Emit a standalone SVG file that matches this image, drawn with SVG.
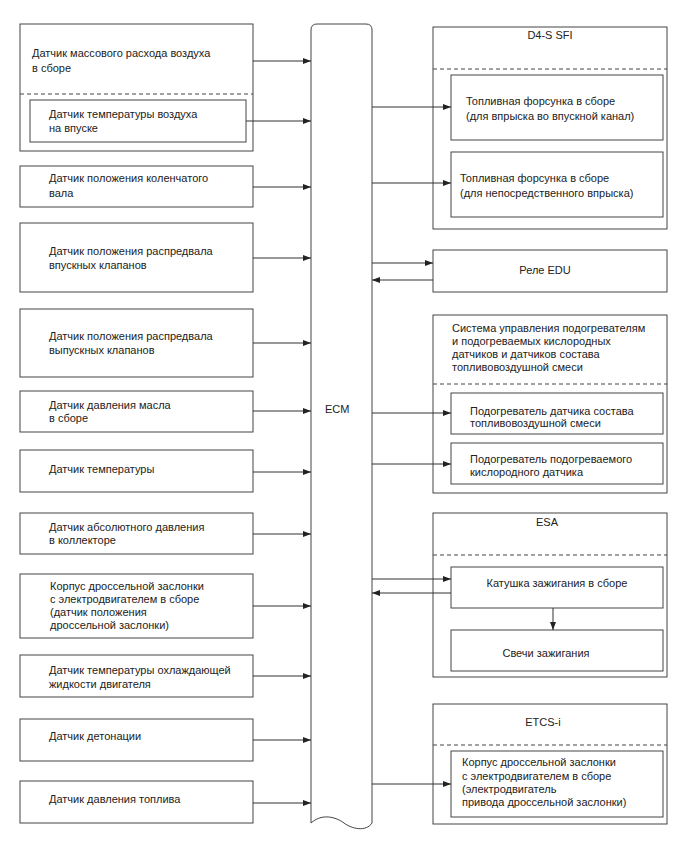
<svg xmlns="http://www.w3.org/2000/svg" width="688" height="852" viewBox="0 0 688 852">
<defs>
<marker id="ah" markerUnits="userSpaceOnUse" markerWidth="9" markerHeight="6" refX="8" refY="3" orient="auto">
<path d="M0,0 L8,3 L0,6 z" fill="#222"/>
</marker>
<style>
.b{fill:#fff;stroke:#444;stroke-width:1}
.d{stroke:#444;stroke-width:1;stroke-dasharray:4,3;fill:none}
.t{font-family:"Liberation Sans",Arial,sans-serif;font-size:11px;fill:#222}
.m{text-anchor:middle}
.c{stroke:#333;stroke-width:1;fill:none;marker-end:url(#ah)}
</style>
</defs>
<rect width="688" height="852" fill="#fff"/>

<g id="ecm">
<path class="b" d="M311,823 L311,30 Q311,24 317,24 L366,24 Q372,24 372,30 L372,823 C366,832 352,829 344,823 C336,817 322,813 311,823 Z"/>
<text class="t" x="325" y="413">ECM</text>
</g>

<g id="maf">
<rect class="b" x="20" y="24" width="233" height="127"/>
<line class="d" x1="20" y1="94" x2="253" y2="94"/>
<text class="t" x="32" y="57">Датчик массового расхода воздуха</text>
<text class="t" x="32" y="72">в сборе</text>
</g>
<g id="iat">
<rect class="b" x="30" y="100" width="216" height="42"/>
<text class="t" x="49" y="118">Датчик температуры воздуха</text>
<text class="t" x="49" y="132">на впуске</text>
</g>
<g id="ckp">
<rect class="b" x="20" y="166" width="233" height="41"/>
<text class="t" x="49" y="182">Датчик положения коленчатого</text>
<text class="t" x="49" y="197">вала</text>
</g>
<g id="camin">
<rect class="b" x="20" y="223" width="233" height="69"/>
<text class="t" x="49" y="255">Датчик положения распредвала</text>
<text class="t" x="49" y="269">впускных клапанов</text>
</g>
<g id="camex">
<rect class="b" x="20" y="309" width="233" height="68"/>
<text class="t" x="49" y="340">Датчик положения распредвала</text>
<text class="t" x="49" y="354">выпускных клапанов</text>
</g>
<g id="oil">
<rect class="b" x="20" y="391" width="233" height="41"/>
<text class="t" x="49" y="409">Датчик давления масла</text>
<text class="t" x="49" y="422">в сборе</text>
</g>
<g id="temp">
<rect class="b" x="20" y="450" width="233" height="42"/>
<text class="t" x="49" y="473">Датчик температуры</text>
</g>
<g id="map">
<rect class="b" x="20" y="513" width="233" height="41"/>
<text class="t" x="49" y="531">Датчик абсолютного давления</text>
<text class="t" x="49" y="544">в коллекторе</text>
</g>
<g id="tps">
<rect class="b" x="20" y="574" width="233" height="64"/>
<text class="t" x="50" y="590">Корпус дроссельной заслонки</text>
<text class="t" x="50" y="603">с электродвигателем в сборе</text>
<text class="t" x="50" y="616">(датчик положения</text>
<text class="t" x="50" y="629">дроссельной заслонки)</text>
</g>
<g id="ect">
<rect class="b" x="20" y="655" width="233" height="42"/>
<text class="t" x="49" y="674">Датчик температуры охлаждающей</text>
<text class="t" x="49" y="688">жидкости двигателя</text>
</g>
<g id="knock">
<rect class="b" x="20" y="719" width="233" height="42"/>
<text class="t" x="49" y="740">Датчик детонации</text>
</g>
<g id="fuelp">
<rect class="b" x="20" y="781" width="233" height="42"/>
<text class="t" x="49" y="803">Датчик давления топлива</text>
</g>

<g id="sfi">
<rect class="b" x="433" y="27" width="234" height="202"/>
<line class="d" x1="433" y1="69" x2="667" y2="69"/>
<text class="t m" x="550" y="39">D4-S SFI</text>
</g>
<g id="inj1">
<rect class="b" x="451" y="75" width="212" height="65"/>
<text class="t" x="466" y="105">Топливная форсунка в сборе</text>
<text class="t" x="466" y="120">(для впрыска во впускной канал)</text>
</g>
<g id="inj2">
<rect class="b" x="451" y="152" width="212" height="65"/>
<text class="t" x="460" y="182">Топливная форсунка в сборе</text>
<text class="t" x="460" y="197">(для непосредственного впрыска)</text>
</g>
<g id="edu">
<rect class="b" x="433" y="250" width="234" height="42"/>
<text class="t m" x="545" y="274">Реле EDU</text>
</g>
<g id="heater">
<rect class="b" x="433" y="315" width="234" height="178"/>
<line class="d" x1="433" y1="384" x2="667" y2="384"/>
<text class="t" x="452" y="332">Система управления подогревателям</text>
<text class="t" x="452" y="345">и подогреваемых кислородных</text>
<text class="t" x="452" y="358">датчиков и датчиков состава</text>
<text class="t" x="452" y="371">топливовоздушной смеси</text>
</g>
<g id="afheater">
<rect class="b" x="451" y="393" width="212" height="41"/>
<text class="t" x="470" y="415">Подогреватель датчика состава</text>
<text class="t" x="470" y="427">топливовоздушной смеси</text>
</g>
<g id="o2heater">
<rect class="b" x="451" y="443" width="212" height="41"/>
<text class="t" x="470" y="463">Подогреватель подогреваемого</text>
<text class="t" x="470" y="476">кислородного датчика</text>
</g>
<g id="esa">
<rect class="b" x="433" y="513" width="234" height="164"/>
<line class="d" x1="433" y1="555" x2="667" y2="555"/>
<text class="t m" x="547" y="526">ESA</text>
</g>
<g id="coil">
<rect class="b" x="451" y="567" width="212" height="41"/>
<text class="t m" x="557" y="587">Катушка зажигания в сборе</text>
</g>
<g id="plugs">
<rect class="b" x="451" y="630" width="212" height="41"/>
<text class="t m" x="546" y="657">Свечи зажигания</text>
</g>
<g id="etcs">
<rect class="b" x="433" y="704" width="234" height="120"/>
<line class="d" x1="433" y1="745" x2="667" y2="745"/>
<text class="t m" x="543" y="726">ETCS-i</text>
</g>
<g id="motor">
<rect class="b" x="451" y="751" width="212" height="66"/>
<text class="t" x="462" y="766">Корпус дроссельной заслонки</text>
<text class="t" x="462" y="780">с электродвигателем в сборе</text>
<text class="t" x="462" y="793">(электродвигатель</text>
<text class="t" x="462" y="806">привода дроссельной заслонки)</text>
</g>

<g id="connectors">
<line class="c" x1="253" y1="61" x2="311" y2="61"/>
<line class="c" x1="246" y1="121" x2="311" y2="121"/>
<line class="c" x1="253" y1="187" x2="311" y2="187"/>
<line class="c" x1="253" y1="258" x2="311" y2="258"/>
<line class="c" x1="253" y1="343" x2="311" y2="343"/>
<line class="c" x1="253" y1="411" x2="311" y2="411"/>
<line class="c" x1="253" y1="472" x2="311" y2="472"/>
<line class="c" x1="253" y1="534" x2="311" y2="534"/>
<line class="c" x1="253" y1="606" x2="311" y2="606"/>
<line class="c" x1="253" y1="676" x2="311" y2="676"/>
<line class="c" x1="253" y1="740" x2="311" y2="740"/>
<line class="c" x1="253" y1="803" x2="311" y2="803"/>
<line class="c" x1="372" y1="107" x2="451" y2="107"/>
<line class="c" x1="372" y1="183" x2="451" y2="183"/>
<line class="c" x1="372" y1="263" x2="433" y2="263"/>
<line class="c" x1="433" y1="280" x2="372" y2="280"/>
<line class="c" x1="372" y1="413" x2="451" y2="413"/>
<line class="c" x1="372" y1="464" x2="451" y2="464"/>
<line class="c" x1="372" y1="579" x2="451" y2="579"/>
<line class="c" x1="451" y1="593" x2="372" y2="593"/>
<line class="c" x1="553" y1="608" x2="553" y2="630"/>
<line class="c" x1="372" y1="784" x2="451" y2="784"/>
</g>
</svg>
